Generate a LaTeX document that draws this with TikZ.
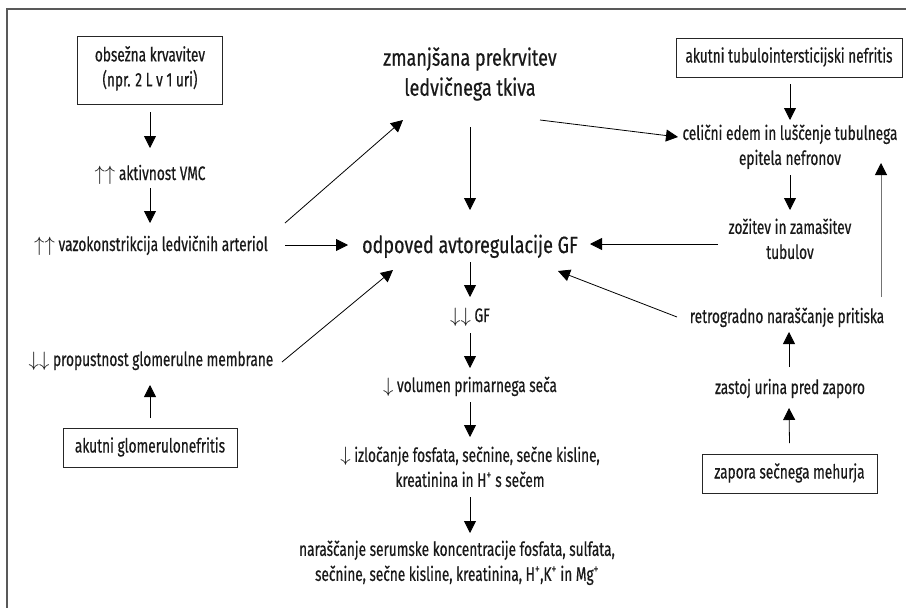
\documentclass[tikz,border=0pt]{standalone}
\usepackage{fontspec}
\setmainfont{Fira Sans}[FakeStretch=0.70, FakeBold=0.5]
\newfontfamily\bigfam{Fira Sans}[FakeStretch=0.765, FakeBold=0.5]
\usetikzlibrary{arrows.meta}
\newcommand\smfnt{\fontsize{19.5}{25}\selectfont}
\newcommand\bgfnt{\bigfam\fontsize{23.5}{30}\selectfont}
\newcommand\arw[1]{{\fontsize{21}{25}\selectfont$#1$}}
\begin{document}
\begin{tikzpicture}[x=1pt,y=-1pt,
  txt/.style={inner sep=0pt, align=center, font=\smfnt, text=black!90,
    execute at begin node=\strut, execute at end node=\strut},
  big/.style={txt, font=\bgfnt},
  box/.style={txt, draw=black!85, line width=0.9pt},
  arr/.style={draw=black, line width=0.8pt, -{Triangle[length=12pt,width=12pt]}},
  garr/.style={draw=black!55, line width=1pt, -{Triangle[length=12pt,width=12pt,color=black]}},
  frame/.style={draw=black!65, line width=2.4pt}
]
\useasboundingbox (0,0) rectangle (906,608);
\draw[frame] (7,608) -- (7,9) -- (906,9);

% left column
\node[box, minimum width=145, minimum height=68] (obs) at (150,70) {obsežna krvavitev\\(npr. 2 L v 1 uri)};
\node[txt] (akt) at (150,175) {\arw{\uparrow\uparrow} aktivnost VMC};
\node[txt] (vaz) at (151,246) {\arw{\uparrow\uparrow} vazokonstrikcija ledvičnih arteriol};
\node[txt] (prop) at (151,361) {\arw{\downarrow\downarrow} propustnost glomerulne membrane};
\node[box, minimum width=174, minimum height=39] (glom) at (150,447.5) {akutni glomerulonefritis};

% middle column
\node[big] (zman) at (470,76) {zmanjšana prekrvitev\\ledvičnega tkiva};
\node[big] (odp) at (470,247) {odpoved avtoregulacije GF};
\node[txt] (gf) at (470,317) {\arw{\downarrow\downarrow} GF};
\node[txt] (vol) at (470,387) {\arw{\downarrow} volumen primarnega seča};
\node[txt] (izl) at (470,470.5) {\arw{\downarrow} izločanje fosfata, sečnine, sečne kisline,\\kreatinina in H\textsuperscript{+} s sečem};
\node[txt] (nar) at (457,564.5) {naraščanje serumske koncentracije fosfata, sulfata,\\sečnine, sečne kisline, kreatinina, H\textsuperscript{+},K\textsuperscript{+} in Mg\textsuperscript{+}};

% right column
\node[box, minimum width=226, minimum height=39] (tub) at (789,57.5) {akutni tubulointersticijski nefritis};
\node[txt] (cel) at (790,148.5) {celični edem in luščenje tubulnega\\epitela nefronov};
\node[txt] (zoz) at (790,242.5) {zožitev in zamašitev\\tubulov};
\node[txt] (ret) at (787,318) {retrogradno naraščanje pritiska};
\node[txt] (zas) at (790,389) {zastoj urina pred zaporo};
\node[box, minimum width=175, minimum height=39] (zap) at (789.5,473.5) {zapora sečnega mehurja};

% connectors
\draw[arr] ([shift={(0,42)}]obs.center) -- ([shift={(0,-27)}]akt.center);
\draw[arr] ([shift={(0,13)}]akt.center) -- ([shift={(-1,-23)}]vaz.center);
\draw[arr] ([shift={(134,-1)}]vaz.center) -- ([shift={(-122,-2)}]odp.center);
\draw[arr] ([shift={(134,-23)}]vaz.center) -- ([shift={(-67,44)}]zman.center);
\draw[arr] ([shift={(131,1)}]prop.center) -- ([shift={(-77,23)}]odp.center);
\draw[arr] ([shift={(0,-29.5)}]glom.center) -- ([shift={(-1,24)}]prop.center);
\draw[arr] ([shift={(0,51)}]zman.center) -- ([shift={(0,-37)}]odp.center);
\draw[arr] ([shift={(70,44)}]zman.center) -- ([shift={(-112,-11.5)}]cel.center);
\draw[arr] ([shift={(1,26.5)}]tub.center) -- ([shift={(0,-28.5)}]cel.center);
\draw[arr] ([shift={(0,26.5)}]cel.center) -- ([shift={(0,-32.5)}]zoz.center);
\draw[arr] ([shift={(-72,1.5)}]zoz.center) -- ([shift={(120,-3)}]odp.center);
\draw[arr] ([shift={(-110,-1)}]ret.center) -- ([shift={(88,24)}]odp.center);
\draw[garr] ([shift={(94,-21)}]ret.center) -- ([shift={(91,14.5)}]cel.center);
\draw[arr] ([shift={(-1,-22)}]zas.center) -- ([shift={(2,14)}]ret.center);
\draw[arr] ([shift={(0,-30.5)}]zap.center) -- ([shift={(-1,19)}]zas.center);
\draw[arr] ([shift={(0,15)}]odp.center) -- ([shift={(0,-20)}]gf.center);
\draw[arr] ([shift={(0,16)}]gf.center) -- ([shift={(0,-19)}]vol.center);
\draw[arr] ([shift={(0,15)}]vol.center) -- ([shift={(0,-33.5)}]izl.center);
\draw[arr] ([shift={(0,26.5)}]izl.center) -- ([shift={(13,-31.5)}]nar.center);
\end{tikzpicture}
\end{document}
